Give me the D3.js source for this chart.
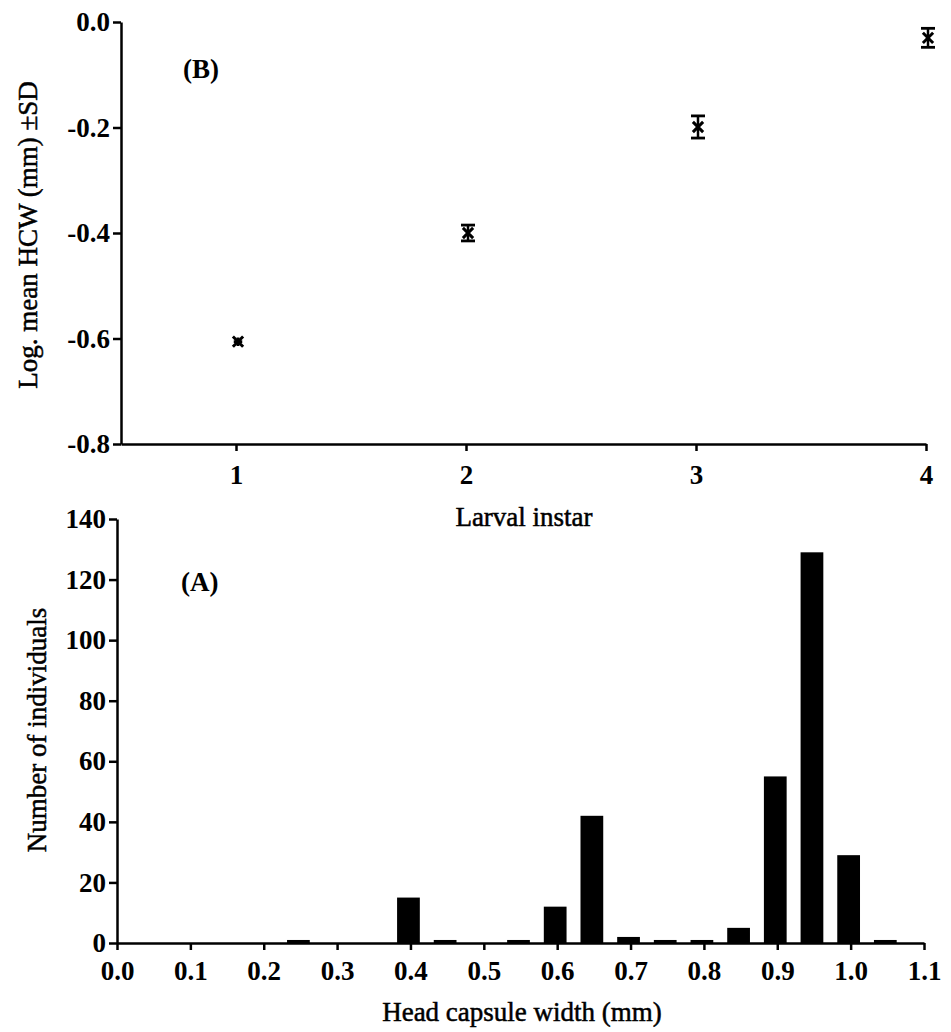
<!DOCTYPE html>
<html>
<head>
<meta charset="utf-8">
<script src="https://cdn.jsdelivr.net/npm/d3@7"></script>
<style>
  body { margin: 0; background: #fff; }
  svg text { font-family: "Liberation Serif", "Times New Roman", serif; fill: #000; }
  .axis path, .axis line { stroke: #000; stroke-width: 2.5; }
  .axis text { font-family: "Liberation Serif", serif; font-size: 27px; font-weight: bold; }
  .title { font-size: 27px; stroke: #000; stroke-width: 0.5; }
</style>
</head>
<body>
<div id="chart"></div>
<script>
// (B) log mean head capsule width per larval instar
const instars = [1, 2, 3, 4];
const logMean = [-0.606, -0.400, -0.199, -0.030];
const logSD = [0.004, 0.015, 0.021, 0.018];

// (A) frequency of head capsule widths (mm)
const hcwClass = [0.25, 0.40, 0.45, 0.55, 0.60, 0.65, 0.70, 0.75, 0.80, 0.85, 0.90, 0.95, 1.00, 1.05];
const counts = [1, 15, 1, 1, 12, 42, 2, 1, 1, 5, 55, 129, 29, 1];

const yTicksB = [-0.8, -0.6, -0.4, -0.2, 0.0];
const xTicksB = [1, 2, 3, 4];
const yTicksA = [0, 20, 40, 60, 80, 100, 120, 140];
const xTicksA = [0, 0.1, 0.2, 0.3, 0.4, 0.5, 0.6, 0.7, 0.8, 0.9, 1.0, 1.1];

const width = 951;
const height = 1032;

const svg = d3.select("#chart")
  .append("svg")
  .attr("width", width)
  .attr("height", height)
  .attr("font-family", "Liberation Serif");

// ---------- top panel (B) ----------
const xT = d3.scaleLinear().domain([0.5, 4]).range([121, 926]);
const yT = d3.scaleLinear().domain([-0.8, 0]).range([444, 22]);

const fmt1 = (d) => d3.format(".1f")(d).replace("−", "-");

svg.append("g")
  .attr("class", "axis")
  .attr("transform", `translate(${xT(0.5)},0)`)
  .call(d3.axisLeft(yT).tickValues(yTicksB).tickSize(8).tickSizeOuter(0).tickPadding(3).tickFormat(fmt1));

svg.append("g")
  .attr("class", "axis")
  .attr("transform", `translate(0,${yT(-0.8)})`)
  .call(d3.axisBottom(xT).tickValues(xTicksB).tickSize(7).tickSizeOuter(0).tickPadding(14).tickFormat(d3.format("d")));

svg.selectAll(".axis").attr("font-family", "Liberation Serif");

// error bars with x markers
const pts = svg.append("g")
  .selectAll("g")
  .data(instars)
  .join("g")
  .attr("transform", (d, i) => `translate(${xT(d) + 2},${yT(logMean[i])})`);

pts.append("line")
  .attr("x1", 0).attr("x2", 0)
  .attr("y1", (d, i) => yT(logMean[i] - logSD[i]) - yT(logMean[i]))
  .attr("y2", (d, i) => yT(logMean[i] + logSD[i]) - yT(logMean[i]))
  .attr("stroke", "#000").attr("stroke-width", 2.5);

// caps on the error bars
[-1, 1].forEach((s) => {
  pts.filter((d, i) => logSD[i] > 0.008)
    .append("line")
    .attr("x1", -7).attr("x2", 7)
    .attr("y1", (d) => {
      const i = instars.indexOf(d);
      return yT(logMean[i] + s * logSD[i]) - yT(logMean[i]);
    })
    .attr("y2", (d) => {
      const i = instars.indexOf(d);
      return yT(logMean[i] + s * logSD[i]) - yT(logMean[i]);
    })
    .attr("stroke", "#000").attr("stroke-width", 2.8);
});

pts.append("path")
  .attr("d", d3.symbol().type(d3.symbolTimes).size(70))
  .attr("fill", "none")
  .attr("stroke", "#000")
  .attr("stroke-width", 3);

pts.filter((d, i) => i === 0)
  .append("path")
  .attr("d", d3.symbol().type(d3.symbolCross).size(40))
  .attr("fill", "#000");

svg.append("text")
  .attr("x", 183).attr("y", 78)
  .style("font-size", "27px").style("font-weight", "bold")
  .text("(B)");

svg.append("text")
  .attr("class", "title")
  .attr("x", 524).attr("y", 526)
  .attr("text-anchor", "middle")
  .text("Larval instar");

svg.append("text")
  .attr("class", "title")
  .attr("transform", "translate(37,235) rotate(-90)")
  .attr("text-anchor", "middle")
  .text("Log. mean HCW (mm) ±SD");

// ---------- bottom panel (A) ----------
const xB = d3.scaleLinear().domain([0, 1.1]).range([117, 924]);
const yB = d3.scaleLinear().domain([0, 140]).range([943, 519]);
const barW = 0.031;

svg.append("g")
  .selectAll("rect")
  .data(hcwClass)
  .join("rect")
  .attr("x", (d) => xB(d - barW / 2) - 2)
  .attr("width", (d) => xB(d + barW / 2) - xB(d - barW / 2))
  .attr("y", (d, i) => yB(counts[i]))
  .attr("height", (d, i) => yB(0) - yB(counts[i]))
  .attr("fill", "#000");

svg.append("g")
  .attr("class", "axis")
  .attr("transform", `translate(${xB(0)},0)`)
  .call(d3.axisLeft(yB).tickValues(yTicksA).tickSize(8).tickSizeOuter(0).tickPadding(3).tickFormat(d3.format("d")));

svg.append("g")
  .attr("class", "axis")
  .attr("transform", `translate(0,${yB(0)})`)
  .call(d3.axisBottom(xB).tickValues(xTicksA).tickSize(7).tickSizeOuter(0).tickPadding(11).tickFormat(d3.format(".1f")));

svg.selectAll(".axis").attr("font-family", "Liberation Serif");

svg.append("text")
  .attr("x", 181).attr("y", 591)
  .style("font-size", "27px").style("font-weight", "bold")
  .text("(A)");

svg.append("text")
  .attr("class", "title")
  .attr("x", 522).attr("y", 1021)
  .attr("text-anchor", "middle")
  .text("Head capsule width (mm)");

svg.append("text")
  .attr("class", "title")
  .attr("transform", "translate(46,730) rotate(-90)")
  .attr("text-anchor", "middle")
  .text("Number of individuals");
</script>
</body>
</html>
